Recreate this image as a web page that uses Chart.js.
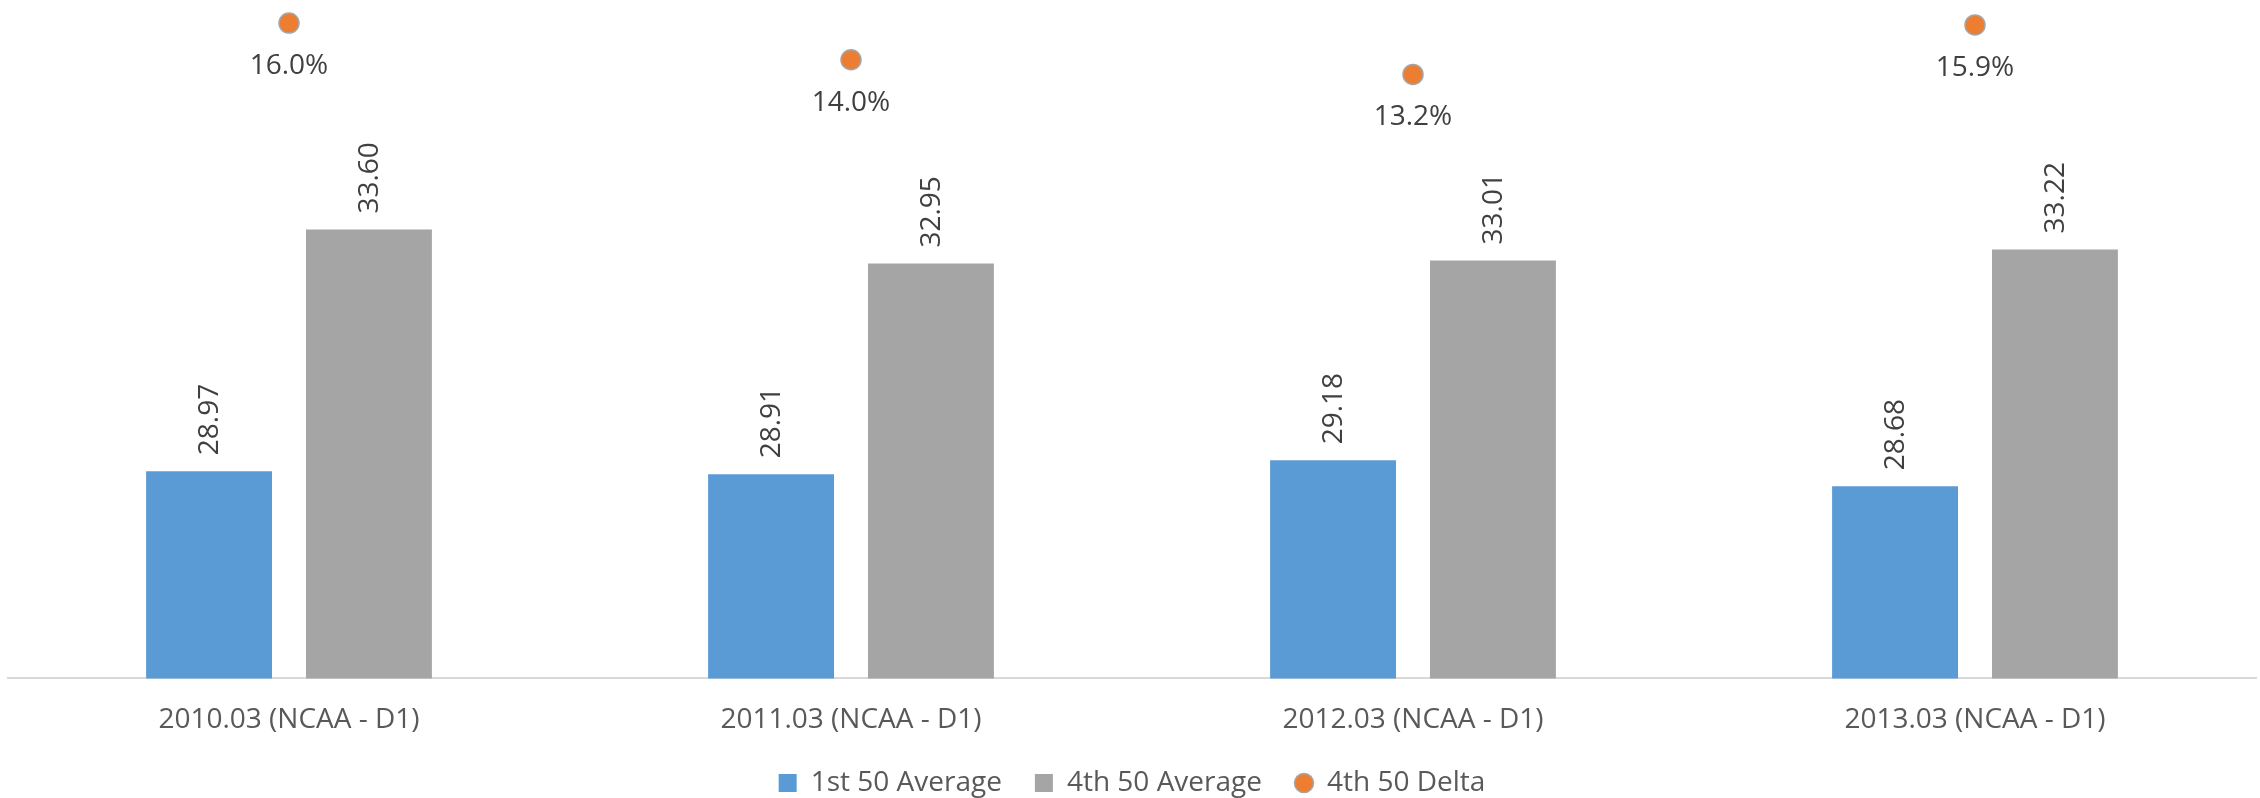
<!DOCTYPE html>
<html>
<head>
<meta charset="utf-8">
<script src="https://cdn.jsdelivr.net/npm/chart.js@4"></script>
<style>
  html, body { margin: 0; padding: 0; background: #fff; }
  #wrap { width: 2260px; height: 798px; }
</style>
</head>
<body>
<div id="wrap"><canvas id="chart"></canvas></div>
<script>
const categories = ["2010.03 (NCAA - D1)", "2011.03 (NCAA - D1)", "2012.03 (NCAA - D1)", "2013.03 (NCAA - D1)"];
const first50Avg = [28.97, 28.91, 29.18, 28.68];
const fourth50Avg = [33.60, 32.95, 33.01, 33.22];
const fourth50Delta = [16.0, 14.0, 13.2, 15.9];

Chart.defaults.font.family = "'Open Sans', sans-serif";

// small round marker for the legend entry of the delta series
const dot = document.createElement("canvas");
dot.width = 22; dot.height = 22;
const dctx = dot.getContext("2d");
dctx.beginPath();
dctx.arc(11, 11, 9.5, 0, Math.PI * 2);
dctx.fillStyle = "#ED7D31";
dctx.fill();
dctx.lineWidth = 1.5;
dctx.strokeStyle = "#A5A5A5";
dctx.stroke();

const valueLabels = {
  id: "valueLabels",
  afterDatasetsDraw(chart) {
    const ctx = chart.ctx;
    ctx.save();
    ctx.font = "28px 'Open Sans'";
    ctx.fillStyle = "#404040";
    chart.data.datasets.forEach((ds, i) => {
      const meta = chart.getDatasetMeta(i);
      meta.data.forEach((el, j) => {
        if (ds.type === "bar") {
          ctx.save();
          ctx.translate(el.x + 1, el.y - 16);
          ctx.rotate(-Math.PI / 2);
          ctx.textAlign = "left";
          ctx.textBaseline = "middle";
          ctx.fillText(ds.data[j].toFixed(2), 0, 0);
          ctx.restore();
        } else {
          ctx.textAlign = "center";
          ctx.textBaseline = "middle";
          ctx.fillText(ds.data[j].toFixed(1) + "%", el.x, el.y + 43);
        }
      });
    });
    ctx.restore();
  }
};

new Chart(document.getElementById("chart"), {
  data: {
    labels: categories,
    datasets: [
      {
        type: "bar",
        label: "1st 50 Average",
        data: first50Avg,
        backgroundColor: "#5B9BD5",
        yAxisID: "y",
        order: 2
      },
      {
        type: "bar",
        label: "4th 50 Average",
        data: fourth50Avg,
        backgroundColor: "#A5A5A5",
        yAxisID: "y",
        order: 2
      },
      {
        type: "line",
        label: "4th 50 Delta",
        data: fourth50Delta,
        showLine: false,
        pointRadius: 10,
        pointHoverRadius: 10,
        pointBackgroundColor: "#ED7D31",
        pointBorderColor: "#A5A5A5",
        pointBorderWidth: 1.5,
        yAxisID: "y1",
        order: 1
      }
    ]
  },
  options: {
    responsive: true,
    maintainAspectRatio: false,
    animation: false,
    datasets: { bar: { categoryPercentage: 0.569, barPercentage: 0.7875 } },
    layout: { autoPadding: false, padding: { left: 8, right: 4, top: 0, bottom: -9 } },
    scales: {
      x: {
        offset: true,
        grid: { display: false },
        border: { display: true, color: "#D9D9D9", width: 2 },
        ticks: { color: "#595959", font: { size: 28 }, padding: 17 },
        afterFit(scale) { scale.height -= 18; }
      },
      y: { display: false, min: 25, max: 38 },
      y1: { display: false, min: -19.74, max: 17.26 }
    },
    plugins: {
      tooltip: { enabled: false },
      legend: {
        position: "bottom",
        labels: {
          color: "#595959",
          font: { size: 28 },
          usePointStyle: true,
          boxWidth: 18,
          boxHeight: 18,
          padding: 33,
          generateLabels(chart) {
            const items = Chart.defaults.plugins.legend.labels.generateLabels(chart);
            items.forEach(it => {
              it.pointStyle = it.datasetIndex === 2 ? dot : "rect";
              it.lineWidth = 0;
            });
            return items.sort((a, b) => a.datasetIndex - b.datasetIndex);
          }
        }
      }
    }
  },
  plugins: [valueLabels]
});
</script>
</body>
</html>
